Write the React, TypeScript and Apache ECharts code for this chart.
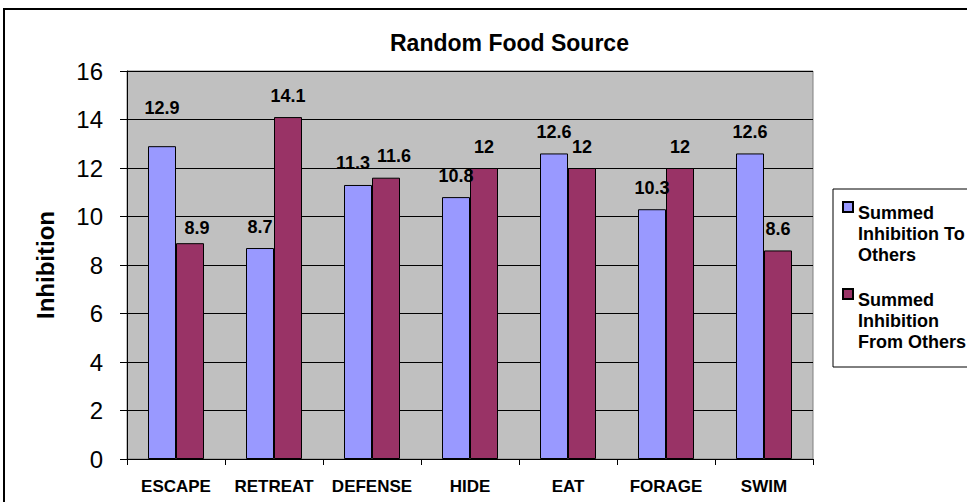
import { useEffect, useRef } from "react";
import * as echarts from "echarts";

const categories = ["ESCAPE", "RETREAT", "DEFENSE", "HIDE", "EAT", "FORAGE", "SWIM"];
const toOthers = [12.9, 8.7, 11.3, 10.8, 12.6, 10.3, 12.6];
const fromOthers = [8.9, 14.1, 11.6, 12, 12, 12, 8.6];
const seriesNames = ["Summed\nInhibition To\nOthers", "Summed\nInhibition\nFrom Others"];
const yMin = 0;
const yMax = 16;
const yStep = 2;

const FONT = 'Arial, "Liberation Sans", sans-serif';

// per-label position tweaks (style only)
const toLabelDistance: Record<number, number> = { 0: 29 };
const toLabelOffset: Record<number, number[]> = { 2: [-5, 0] };
const fromLabelDistance: Record<number, number> = { 0: 6 };
const fromLabelOffset: Record<number, number[]> = { 0: [7, 0], 2: [8, 0] };

export default function App() {
  const ref = useRef<HTMLDivElement>(null);
  useEffect(() => {
    if (!ref.current) return;
    const chart = echarts.init(ref.current, undefined, { renderer: "svg" });
    const labelBase = {
      show: true,
      position: "top",
      distance: 12.5,
      fontFamily: FONT,
      fontSize: 18,
      fontWeight: "bold",
      color: "#000",
    };
    const itemLabel = (i: number, dist: Record<number, number>, off: Record<number, number[]>) => {
      const l: any = {};
      if (dist[i] !== undefined) l.distance = dist[i];
      if (off[i] !== undefined) l.offset = off[i];
      return Object.keys(l).length ? l : undefined;
    };
    chart.setOption({
      animation: false,
      backgroundColor: "#fff",
      textStyle: { fontFamily: FONT },
      title: {
        text: "Random Food Source",
        left: 390,
        top: 31,
        padding: 0,
        textStyle: { fontFamily: FONT, fontSize: 23, fontWeight: "bold", color: "#000" },
      },
      graphic: [
        {
          type: "rect",
          shape: { x: 4, y: 9, width: 1100, height: 600 },
          style: { fill: "none", stroke: "#000", lineWidth: 2 },
          z: 100,
          silent: true,
        },
      ],
      legend: {
        orient: "vertical",
        left: 833,
        top: 189,
        padding: [12, 40, 14, 9],
        itemGap: 22,
        itemWidth: 10,
        itemHeight: 63,
        icon: "path://M0,0H10V10H0Z M0,63",
        backgroundColor: "#fff",
        borderColor: "#000",
        borderWidth: 1,
        textStyle: { fontFamily: FONT, fontSize: 18, fontWeight: "bold", color: "#000", lineHeight: 21 },
        data: seriesNames,
      },
      grid: {
        left: 127,
        top: 71,
        width: 686,
        height: 388,
        show: true,
        backgroundColor: "#C0C0C0",
        borderColor: "#808080",
        borderWidth: 1,
      },
      xAxis: {
        type: "category",
        data: categories,
        boundaryGap: true,
        axisLine: { lineStyle: { color: "#000", width: 1 } },
        axisTick: { show: true, interval: 0, length: 6, lineStyle: { color: "#000" } },
        axisLabel: { interval: 0, fontFamily: FONT, fontSize: 17, fontWeight: "bold", color: "#000", margin: 19 },
      },
      yAxis: {
        type: "value",
        min: yMin,
        max: yMax,
        interval: yStep,
        name: "Inhibition",
        nameLocation: "middle",
        nameGap: 70,
        nameTextStyle: { fontFamily: FONT, fontSize: 24, fontWeight: "bold", color: "#000" },
        axisLine: { show: true, lineStyle: { color: "#000", width: 1 } },
        axisTick: { show: true, length: 7, lineStyle: { color: "#000" } },
        axisLabel: { fontFamily: FONT, fontSize: 24, color: "#000", margin: 24 },
        splitLine: { show: true, lineStyle: { color: "#000", width: 1 } },
      },
      series: [
        {
          name: seriesNames[0],
          type: "bar",
          barWidth: 28,
          barGap: "0%",
          itemStyle: { color: "#9999FF", borderColor: "#000", borderWidth: 1 },
          label: labelBase,
          data: toOthers.map((v, i) => {
            const l = itemLabel(i, toLabelDistance, toLabelOffset);
            return l ? { value: v, label: l } : v;
          }),
        },
        {
          name: seriesNames[1],
          type: "bar",
          barWidth: 28,
          barGap: "0%",
          itemStyle: { color: "#993366", borderColor: "#000", borderWidth: 1 },
          label: labelBase,
          data: fromOthers.map((v, i) => {
            const l = itemLabel(i, fromLabelDistance, fromLabelOffset);
            return l ? { value: v, label: l } : v;
          }),
        },
      ],
    });
    return () => chart.dispose();
  }, []);
  return (
    <div
      ref={ref}
      style={{ position: "fixed", left: 0, top: 0, width: 967, height: 502 }}
    />
  );
}
